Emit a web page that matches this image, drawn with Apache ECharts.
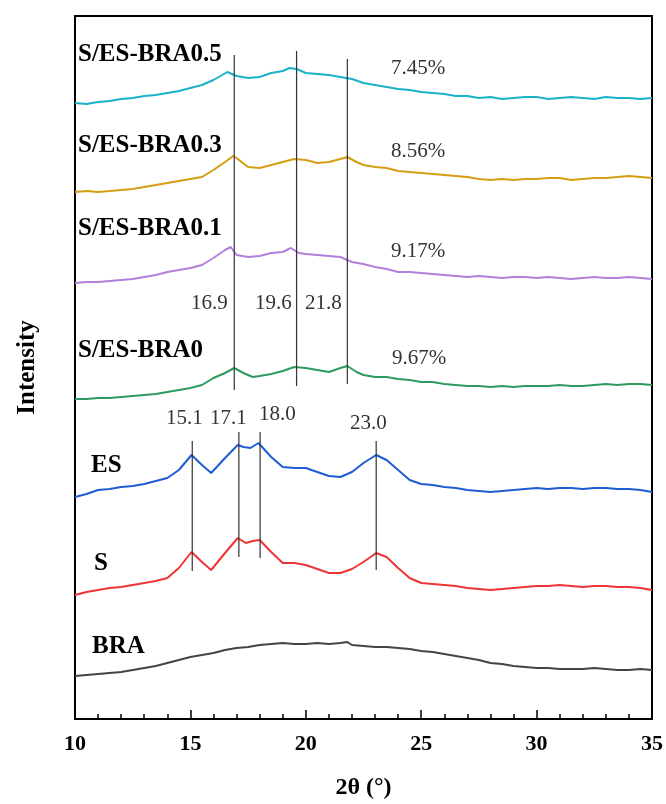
<!DOCTYPE html>
<html>
<head>
<meta charset="utf-8">
<script src="https://cdn.jsdelivr.net/npm/echarts@6/dist/echarts.min.js"></script>
<style>
  html, body { margin: 0; padding: 0; background: #fff; }
  #chart { width: 666px; height: 804px; }
</style>
</head>
<body>
<div id="chart"></div>
<script>
  // XRD patterns, stacked (2θ, intensity a.u. incl. offset)
  var bra05 = [[10,616],[10.5,615],[11,617],[11.5,618],[12,620],[12.5,621],[13,623],[13.5,624],[14,626],[14.5,628],[15,631],[15.5,634],[16,639],[16.3,643],[16.6,647],[16.8,645],[17,643],[17.5,641],[18,642],[18.5,646],[19,648],[19.3,651],[19.6,650],[20,646],[20.5,645],[21,644],[21.5,642],[22,640],[22.5,636],[23,634],[23.5,632],[24,630],[24.5,629],[25,627],[25.5,626],[26,625],[26.5,623],[27,623],[27.5,621],[28,622],[28.5,620],[29,621],[29.5,622],[30,622],[30.5,620],[31,621],[31.5,622],[32,621],[32.5,620],[33,622],[33.5,621],[34,621],[34.5,620],[35,621]];
  var bra03 = [[10,527],[10.5,528],[11,527],[11.5,528],[12,529],[12.5,530],[13,532],[13.5,534],[14,536],[14.5,538],[15,540],[15.5,542],[16,549],[16.5,557],[16.85,563],[17,561],[17.5,552],[18,551],[18.5,554],[19,557],[19.5,560],[20,559],[20.5,556],[21,557],[21.5,560],[21.8,562],[22.2,557],[22.5,554],[23,552],[23.5,551],[24,548],[24.5,547],[25,546],[25.5,545],[26,544],[26.5,543],[27,542],[27.5,540],[28,539],[28.5,540],[29,539],[29.5,540],[30,540],[30.5,541],[31,541],[31.5,539],[32,540],[32.5,541],[33,541],[33.5,542],[34,543],[34.5,542],[35,541]];
  var bra01 = [[10,436],[10.5,437],[11,437],[11.5,438],[12,439],[12.5,440],[13,442],[13.5,444],[14,447],[14.5,449],[15,451],[15.5,454],[16,461],[16.5,469],[16.75,472],[17,464],[17.5,462],[18,463],[18.5,466],[19,467],[19.35,471],[19.7,466],[20,465],[20.5,464],[21,463],[21.5,462],[22,457],[22.5,455],[23,452],[23.5,450],[24,447],[24.5,447],[25,446],[25.5,445],[26,444],[26.5,443],[27,442],[27.5,443],[28,442],[28.5,441],[29,442],[29.5,442],[30,441],[30.5,442],[31,441],[31.5,440],[32,441],[32.5,442],[33,441],[33.5,441],[34,442],[34.5,441],[35,440]];
  var bra0 = [[10,320],[10.5,320],[11,321],[11.5,321],[12,322],[12.5,323],[13,324],[13.5,325],[14,327],[14.5,329],[15,331],[15.5,334],[16,341],[16.5,346],[16.9,351],[17.3,346],[17.7,342],[18,343],[18.5,345],[19,348],[19.5,352],[20,351],[20.5,349],[21,347],[21.5,351],[21.8,353],[22.2,347],[22.5,344],[23,342],[23.5,342],[24,340],[24.5,339],[25,337],[25.5,337],[26,335],[26.5,334],[27,333],[27.5,333],[28,332],[28.5,333],[29,332],[29.5,333],[30,333],[30.5,333],[31,334],[31.5,333],[32,333],[32.5,334],[33,335],[33.5,334],[34,335],[34.5,335],[35,334]];
  var es = [[10,222],[10.5,225],[11,229],[11.5,230],[12,232],[12.5,233],[13,235],[13.5,238],[14,241],[14.5,249],[15.05,264],[15.5,254],[15.9,246],[16.5,261],[17.05,274],[17.3,272],[17.6,271],[17.95,276],[18.5,262],[19,252],[19.5,251],[20,251],[20.5,247],[21,243],[21.5,242],[22,247],[22.5,256],[23.05,264],[23.5,259],[24,249],[24.5,239],[25,235],[25.5,234],[26,232],[26.5,231],[27,229],[27.5,228],[28,227],[28.5,228],[29,229],[29.5,230],[30,231],[30.5,230],[31,231],[31.5,231],[32,230],[32.5,231],[33,231],[33.5,230],[34,230],[34.5,229],[35,227]];
  var s = [[10,124],[10.5,127],[11,129],[11.5,131],[12,132],[12.5,134],[13,136],[13.5,138],[14,141],[14.5,151],[15.05,167],[15.5,157],[15.9,149],[16.5,166],[17.05,181],[17.4,176],[17.7,178],[18,179],[18.5,167],[19,156],[19.5,156],[20,154],[20.5,150],[21,146],[21.5,146],[22,150],[22.5,157],[23.05,166],[23.5,162],[24,151],[24.5,141],[25,136],[25.5,135],[26,134],[26.5,133],[27,131],[27.5,130],[28,129],[28.5,130],[29,131],[29.5,132],[30,133],[30.5,133],[31,134],[31.5,133],[32,132],[32.5,133],[33,133],[33.5,132],[34,132],[34.5,131],[35,129]];
  var bra = [[10,43],[10.5,44],[11,45],[11.5,46],[12,47],[12.5,49],[13,51],[13.5,53],[14,56],[14.5,59],[15,62],[15.5,64],[16,66],[16.5,69],[17,71],[17.5,72],[18,74],[18.5,75],[19,76],[19.5,75],[20,75],[20.5,76],[21,75],[21.5,76],[21.8,77],[22,74],[22.5,73],[23,72],[23.5,72],[24,71],[24.5,70],[25,68],[25.5,67],[26,65],[26.5,63],[27,61],[27.5,59],[28,56],[28.5,55],[29,53],[29.5,52],[30,51],[30.5,51],[31,50],[31.5,50],[32,50],[32.5,51],[33,50],[33.5,49],[34,49],[34.5,50],[35,49]];

  // reference lines: [2θ, from, to]
  var peakLines = [[16.9,329,664],[19.6,333,668],[21.8,335,660],[15.08,148,278],[17.1,162,287],[18.02,161,287],[23.05,149,278]];

  var names = ['S/ES-BRA0.5', 'S/ES-BRA0.3', 'S/ES-BRA0.1', 'S/ES-BRA0', 'ES', 'S', 'BRA'];
  var curves = [bra05, bra03, bra01, bra0, es, s, bra];
  var colors = ['#1AB2C8', '#D49E12', '#B27FDB', '#2E9A5E', '#1E5CD4', '#EE3535', '#444444'];

  var serif = "'Liberation Serif', 'Times New Roman', serif";
  var myChart = echarts.init(document.getElementById('chart'));

  var series = [];
  for (var i = 0; i < curves.length; i++) {
    series.push({
      name: names[i],
      type: 'line',
      data: curves[i],
      showSymbol: false,
      lineStyle: {color: colors[i], width: 2},
      z: 3
    });
  }
  for (var j = 0; j < peakLines.length; j++) {
    var p = peakLines[j];
    series.push({
      type: 'line',
      data: [[p[0], p[1]], [p[0], p[2]]],
      showSymbol: false,
      lineStyle: {color: '#333', width: 1.2},
      z: 4
    });
  }

  function txt(t, x, y, bold, size) {
    return {
      type: 'text', left: x, top: y,
      style: {
        text: t, fill: bold ? '#000' : '#333',
        font: (bold ? 'bold ' : '') + size + 'px ' + serif
      },
      z: 10
    };
  }

  var graphics = [
    txt('S/ES-BRA0.5', 78, 42, true, 25),
    txt('S/ES-BRA0.3', 78, 133, true, 25),
    txt('S/ES-BRA0.1', 78, 216, true, 25),
    txt('S/ES-BRA0', 78, 338, true, 25),
    txt('ES', 91, 453, true, 25),
    txt('S', 94, 551, true, 25),
    txt('BRA', 92, 634, true, 25),
    txt('7.45%', 391, 58, false, 21),
    txt('8.56%', 391, 141, false, 21),
    txt('9.17%', 391, 241, false, 21),
    txt('9.67%', 392, 348, false, 21),
    txt('16.9', 191, 293, false, 21),
    txt('19.6', 255, 293, false, 21),
    txt('21.8', 305, 293, false, 21),
    txt('15.1', 166, 408, false, 21),
    txt('17.1', 210, 408, false, 21),
    txt('18.0', 259, 404, false, 21),
    txt('23.0', 350, 413, false, 21)
  ];

  myChart.setOption({
    animation: false,
    grid: {left: 75, right: 14, top: 16, bottom: 85, show: true, borderColor: '#000', borderWidth: 2, outerBoundsMode: 'none'},
    xAxis: {
      type: 'value', min: 10, max: 35, interval: 5,
      name: '2θ (°)', nameLocation: 'middle', nameGap: 57,
      nameTextStyle: {fontFamily: serif, fontWeight: 'bold', fontSize: 24, color: '#000'},
      axisLine: {lineStyle: {color: '#000', width: 2}},
      axisTick: {inside: true, length: 9, lineStyle: {color: '#000', width: 1.5}},
      minorTick: {show: true, splitNumber: 5, length: 5, lineStyle: {color: '#000', width: 1.5}},
      axisLabel: {fontFamily: serif, fontWeight: 'bold', fontSize: 22, color: '#000', margin: 14},
      splitLine: {show: false}
    },
    yAxis: {
      type: 'value', min: 0, max: 703,
      name: 'Intensity', nameLocation: 'middle', nameGap: 35, nameRotate: 90,
      nameTextStyle: {fontFamily: serif, fontWeight: 'bold', fontSize: 25, color: '#000'},
      axisLine: {show: true, lineStyle: {color: '#000', width: 2}},
      axisTick: {show: false},
      axisLabel: {show: false},
      splitLine: {show: false}
    },
    graphic: graphics,
    series: series
  });
</script>
</body>
</html>
